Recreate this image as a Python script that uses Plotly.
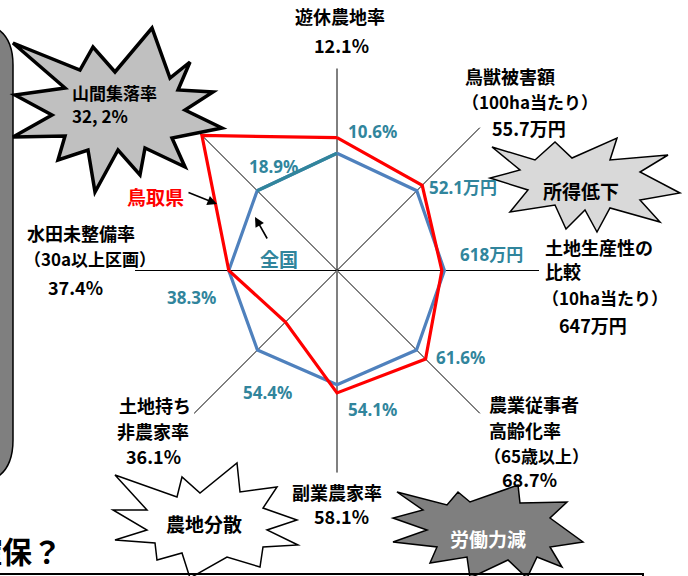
import plotly.graph_objects as go

W, H = 688, 576

# ---- data (index values; national ~ 100) ----
categories = ["遊休農地率", "鳥獣被害額", "土地生産性", "高齢化率",
              "副業農家率", "土地持ち非農家率", "水田未整備率", "山間集落率"]
national_index = [103.9, 100.0, 95.2, 99.6, 101.2, 99.7, 95.9, 100.0]
tottori_index = [117.7, 106.8, 92.9, 111.0, 108.5, 64.6, 95.9, 169.3]
national_labels = ["10.6%", "52.1万円", "618万円", "61.6%",
                   "54.1%", "54.4%", "38.3%", "18.9%"]
r_max = 179

RED = "#ff0000"
BLUE = "#4f81bd"
TEAL = "#31859c"
JP = "Noto Sans CJK JP"
LAT = "Noto Sans, Noto Sans CJK JP"


def P(x, y):
    return x / W, 1 - y / H


fig = go.Figure()

# lower vertical spoke is drawn grey in the original
fig.add_trace(go.Scatterpolar(
    r=[0, r_max], theta=[categories[4], categories[4]],
    mode="lines", line=dict(color="#808080", width=2), hoverinfo="skip"))

theta_closed = categories + [categories[0]]
fig.add_trace(go.Scatterpolar(
    r=national_index + [national_index[0]], theta=theta_closed,
    mode="lines", line=dict(color=BLUE, width=3.2), hoverinfo="skip"))
# the segment 山間集落率 -> 遊休農地率 of the national line is teal
fig.add_trace(go.Scatterpolar(
    r=[national_index[-1], national_index[0]], theta=[categories[-1], categories[0]],
    mode="lines", line=dict(color=TEAL, width=3.2), hoverinfo="skip"))
fig.add_trace(go.Scatterpolar(
    r=tottori_index + [tottori_index[0]], theta=theta_closed,
    mode="lines", line=dict(color=RED, width=3.2), hoverinfo="skip"))

cx0, cx1 = 135 / W, 539 / W
cy_top, cy_bot = 68.5, 472.5
fig.update_layout(
    width=W, height=H, margin=dict(l=0, r=0, t=0, b=0),
    paper_bgcolor="white", plot_bgcolor="white", showlegend=False,
    polar=dict(
        domain=dict(x=[cx0, cx1], y=[1 - cy_bot / H, 1 - cy_top / H]),
        bgcolor="rgba(0,0,0,0)",
        radialaxis=dict(range=[0, r_max], showgrid=False, showline=False,
                        showticklabels=False, ticks=""),
        angularaxis=dict(type="category", categoryorder="array",
                         categoryarray=categories,
                         rotation=90, direction="clockwise",
                         showgrid=True, gridcolor="black", gridwidth=1.2,
                         showline=False, showticklabels=False, ticks=""),
    ),
)

anns = []


def ann(text, x, y, size=18, color="black", xanchor="center", family=JP, bold=True):
    px, py = P(x, y)
    anns.append(dict(text=text, x=px, y=py, xref="paper", yref="paper",
                     xanchor=xanchor, yanchor="middle", showarrow=False,
                     font=dict(size=size, color=color, family=family,
                               weight="bold" if bold else "normal")))


# black category labels
ann("遊休農地率", 340, 16)
ann("12.1%", 341, 45)
ann("鳥獣被害額", 463, 76, xanchor="left")
ann("（100ha当たり）", 460, 101, size=17, xanchor="left")
ann("55.7万円", 490, 128, xanchor="left")
ann("土地生産性の", 543, 247, xanchor="left")
ann("比較", 543, 271, xanchor="left")
ann("（10ha当たり）", 540, 297, size=17, xanchor="left")
ann("647万円", 557, 325, xanchor="left")
ann("農業従事者", 487, 404, xanchor="left")
ann("高齢化率", 487, 430, xanchor="left")
ann("（65歳以上）", 482, 455, size=17, xanchor="left")
ann("68.7%", 529, 479)
ann("副業農家率", 337, 492)
ann("58.1%", 341, 516)
ann("土地持ち", 117, 405, xanchor="left")
ann("非農家率", 115, 431, xanchor="left")
ann("36.1%", 153, 456)
ann("水田未整備率", 25, 233, xanchor="left")
ann("（30a以上区画）", 22, 258, size=17, xanchor="left")
ann("37.4%", 75, 287)

# national value labels (teal)
nat_pos = [(372, 131), (463, 187), (491, 254), (460, 357),
           (372, 409), (267, 392), (191, 297), (273, 166)]
for lab, (x, y) in zip(national_labels, nat_pos):
    ann(lab, x, y, size=17, color=TEAL, family=LAT)

ann("全国", 279, 258, size=19, color=TEAL)
ann("鳥取県", 155, 196, size=19, color=RED)

# arrows
for (x0, y0, x1, y1) in [(187, 192, 217, 204), (268, 240, 255, 217)]:
    px, py = P(x1, y1)
    anns.append(dict(text="", x=px, y=py, xref="paper", yref="paper",
                     ax=x0 - x1, ay=y0 - y1, showarrow=True, arrowhead=2,
                     arrowsize=1.2, arrowwidth=1.6, arrowcolor="black"))

shapes = []


def path_from(pts, close=True):
    s = ""
    for i, (x, y) in enumerate(pts):
        px, py = P(x, y)
        s += ("M" if i == 0 else "L") + f"{px:.5f},{py:.5f} "
    return s + ("Z" if close else "")


def pp(x, y):
    a, b = P(x, y)
    return f"{a:.5f},{b:.5f}"


# left gray rounded panel
lp_path = (f"M{pp(-60,22)} L{pp(-30,22)} Q{pp(13,22)} {pp(13,65)} "
           f"L{pp(13,440)} Q{pp(13,484)} {pp(-30,484)} L{pp(-60,484)} Z")
shapes.append(dict(type="path", path=lp_path, xref="paper", yref="paper",
                   fillcolor="#7f7f7f", line=dict(color="black", width=1.5)))

star1 = [(13, 43), (80, 70), (93, 47), (115, 72), (152, 28), (170, 78), (190, 62),
         (178, 90), (213, 92), (185, 110), (222, 128), (172, 138), (185, 167),
         (145, 148), (140, 175), (118, 150), (95, 192), (88, 150), (58, 160),
         (65, 136), (13, 137), (52, 115), (15, 95), (65, 88)]
star2 = [(492, 147), (535, 160), (555, 142), (572, 158), (617, 138), (610, 160),
         (668, 155), (640, 172), (680, 193), (640, 200), (660, 222), (610, 208),
         (597, 232), (585, 210), (566, 229), (555, 205), (510, 212), (528, 190),
         (490, 178), (520, 170)]
star3 = [(115, 475), (177, 497), (182, 477), (200, 493), (237, 463), (240, 492),
         (277, 487), (263, 508), (297, 520), (267, 530), (298, 545), (263, 547),
         (260, 567), (227, 557), (190, 578), (182, 553), (157, 560), (155, 543),
         (115, 540), (147, 530), (113, 510), (147, 510)]
star4 = [(397, 492), (447, 505), (458, 492), (470, 502), (518, 485), (520, 503),
         (567, 502), (550, 518), (583, 542), (550, 547), (562, 567), (537, 557),
         (527, 578), (508, 560), (470, 578), (467, 557), (430, 563), (437, 547),
         (393, 542), (427, 530), (393, 518), (423, 510)]

shapes.append(dict(type="path", path=path_from(star1), xref="paper", yref="paper",
                   fillcolor="#c0c0c0", line=dict(color="black", width=3.5)))
shapes.append(dict(type="path", path=path_from(star2), xref="paper", yref="paper",
                   fillcolor="#d9d9d9", line=dict(color="black", width=1.5)))
shapes.append(dict(type="path", path=path_from(star3), xref="paper", yref="paper",
                   fillcolor="white", line=dict(color="black", width=1.5)))
shapes.append(dict(type="path", path=path_from(star4), xref="paper", yref="paper",
                   fillcolor="#7f7f7f", line=dict(color="black", width=1.5)))

# bottom frame line
shapes.append(dict(type="path", path=path_from([(0, 574), (643, 574), (643, 580)], close=False),
                   xref="paper", yref="paper", line=dict(color="black", width=2)))

ann("山間集落率", 70, 92, size=17, xanchor="left")
ann("32, 2%", 70, 115, size=17, xanchor="left")
ann("所得低下", 581, 190, size=19)
ann("農地分散", 204, 523, size=19)
ann("労働力減", 488, 538, size=19, color="white")
ann("確保？", 64, 550, size=30, xanchor="right")

fig.update_layout(annotations=anns, shapes=shapes)
fig.write_html("out.html", config={"displayModeBar": False},
               post_script="document.body.style.margin='0';document.body.style.overflow='hidden';")
